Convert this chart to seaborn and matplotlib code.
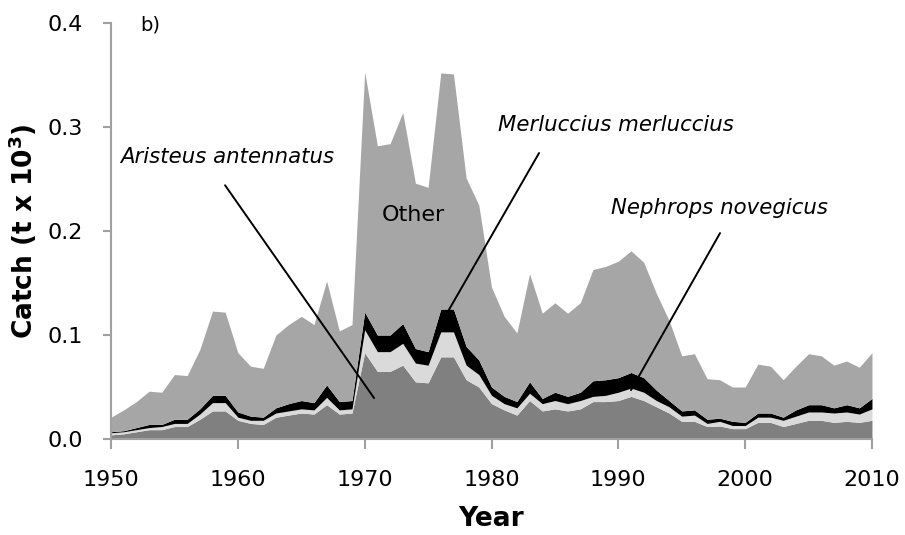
import numpy as np
import pandas as pd
import seaborn as sns
import matplotlib.pyplot as plt

# Catch per species (t x 10^3)
years = list(range(1950, 2011))
aristeus = [0.004, 0.005, 0.007, 0.009, 0.009, 0.012, 0.012, 0.019, 0.027, 0.027,
            0.018, 0.015, 0.014, 0.021, 0.023, 0.025, 0.024, 0.033, 0.024, 0.025,
            0.083, 0.065, 0.065, 0.071, 0.055, 0.054, 0.079, 0.079, 0.057, 0.050,
            0.034, 0.028, 0.023, 0.037, 0.027, 0.029, 0.027, 0.029, 0.036, 0.036,
            0.037, 0.041, 0.037, 0.031, 0.025, 0.017, 0.017, 0.012, 0.0125, 0.010,
            0.010, 0.016, 0.016, 0.012, 0.015, 0.018, 0.018, 0.016, 0.017, 0.016,
            0.018]
nephrops = [0.002, 0.002, 0.002, 0.002, 0.003, 0.003, 0.003, 0.005, 0.008, 0.008,
            0.003, 0.003, 0.004, 0.004, 0.004, 0.004, 0.004, 0.007, 0.004, 0.004,
            0.022, 0.019, 0.019, 0.021, 0.018, 0.017, 0.024, 0.024, 0.014, 0.012,
            0.008, 0.006, 0.007, 0.007, 0.007, 0.008, 0.007, 0.008, 0.005, 0.006,
            0.008, 0.008, 0.008, 0.006, 0.006, 0.005, 0.006, 0.003, 0.0045, 0.003,
            0.003, 0.005, 0.005, 0.006, 0.007, 0.008, 0.008, 0.009, 0.009, 0.008,
            0.011]
merluccius = [0.001, 0.001, 0.002, 0.003, 0.002, 0.004, 0.004, 0.005, 0.007, 0.007,
              0.005, 0.004, 0.003, 0.005, 0.007, 0.008, 0.007, 0.012, 0.008, 0.008,
              0.017, 0.016, 0.016, 0.019, 0.014, 0.013, 0.022, 0.022, 0.018, 0.014,
              0.008, 0.007, 0.006, 0.011, 0.005, 0.008, 0.007, 0.008, 0.015, 0.015,
              0.014, 0.015, 0.014, 0.010, 0.006, 0.005, 0.005, 0.004, 0.003, 0.004,
              0.003, 0.004, 0.004, 0.003, 0.006, 0.007, 0.007, 0.005, 0.007, 0.006,
              0.010]
other = [0.014, 0.020, 0.025, 0.032, 0.031, 0.043, 0.042, 0.057, 0.081, 0.080,
         0.057, 0.048, 0.047, 0.070, 0.076, 0.081, 0.075, 0.100, 0.068, 0.073,
         0.231, 0.182, 0.184, 0.203, 0.159, 0.158, 0.227, 0.226, 0.162, 0.149,
         0.096, 0.077, 0.066, 0.104, 0.082, 0.086, 0.080, 0.086, 0.107, 0.109,
         0.112, 0.117, 0.111, 0.093, 0.077, 0.053, 0.054, 0.039, 0.037, 0.033,
         0.034, 0.047, 0.045, 0.036, 0.042, 0.049, 0.047, 0.041, 0.042, 0.039,
         0.044]

df = pd.DataFrame({"Year": years, "Aristeus": aristeus, "Nephrops": nephrops,
                   "Merluccius": merluccius, "Other": other})

sns.set_theme(style="ticks")
plt.rcParams["font.family"] = ["DejaVu Sans"]
plt.rcParams["text.color"] = "black"
plt.rcParams["axes.labelcolor"] = "black"

fig = plt.figure(figsize=(9.05, 5.35), dpi=100)
ax = fig.add_axes([0.1227, 0.1794, 0.8408, 0.7776])

ax.stackplot(df["Year"], df["Aristeus"], df["Nephrops"], df["Merluccius"], df["Other"],
             colors=["#808080", "#dadada", "#000000", "#a6a6a6"], linewidth=0)

ax.set_xlim(1950, 2010)
ax.set_ylim(0, 0.4)
ax.set_xticks(range(1950, 2011, 10))
ax.set_yticks([0.0, 0.1, 0.2, 0.3, 0.4])
ax.set_yticklabels(["0.0", "0.1", "0.2", "0.3", "0.4"])

sns.despine(ax=ax)
for side in ["left", "bottom"]:
    ax.spines[side].set_color("#a0a0a0")
    ax.spines[side].set_linewidth(1.5)
ax.tick_params(axis="x", length=7, width=1.5, color="#a0a0a0", pad=15,
               labelsize=16, labelcolor="black")
ax.tick_params(axis="y", length=6, width=1.5, color="#a0a0a0", pad=14,
               labelsize=16, labelcolor="black")

ax.set_xlabel("Year", fontsize=19, fontweight="bold", labelpad=12)
ax.set_ylabel("Catch (t x 10$^\\mathbf{3}$)", fontsize=19, fontweight="bold", labelpad=6)

# leader lines from labels to the layers
ax.plot([1958.99, 1970.74], [0.244, 0.0394], color="black", lw=1.4)
ax.plot([1983.75, 1976.49], [0.275, 0.121], color="black", lw=1.4)
ax.plot([1998.02, 1991.0], [0.198, 0.047], color="black", lw=1.4)

ax.text(1950.7, 0.271, "Aristeus antennatus", fontsize=15.3, style="italic",
        ha="left", va="center")
ax.text(1989.8, 0.302, "Merluccius merluccius", fontsize=15.3, style="italic",
        ha="center", va="center")
ax.text(1998.0, 0.222, "Nephrops novegicus", fontsize=15.3, style="italic",
        ha="center", va="center")
ax.text(1973.8, 0.215, "Other", fontsize=16, ha="center", va="center")
ax.text(1952.3, 0.398, "b)", fontsize=14, ha="left", va="center")

plt.savefig("out.png", dpi=100)
